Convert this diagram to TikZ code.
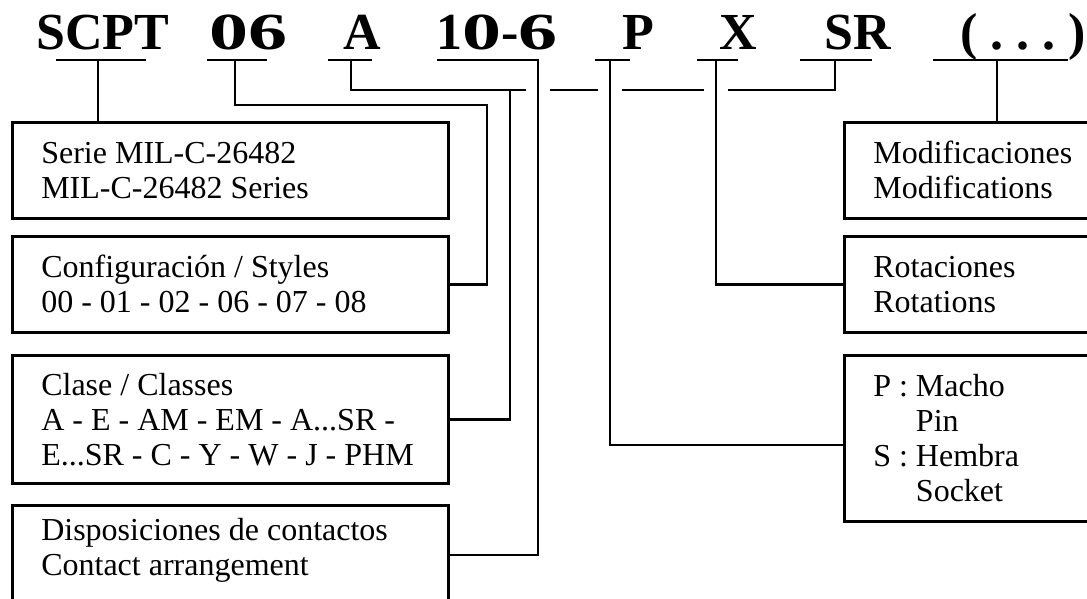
\documentclass[tikz,border=0pt]{standalone}
\usepackage{fontspec}
\usepackage{graphicx}
\setmainfont{Liberation Serif}
\usetikzlibrary{positioning}
\frenchspacing
\newcommand{\fatdig}[1]{\scalebox{1.5}[1]{#1}}

\begin{document}
\begin{tikzpicture}[x=1pt, y=-1pt, line join=miter,
  code/.style={font=\bfseries\fontsize{52}{52}\selectfont, anchor=base west, inner sep=0pt},
  box/.style={draw, line width=2.6pt, align=flush left, anchor=north west,
              inner xsep=29pt, inner ysep=0pt, font=\fontsize{32}{35}\selectfont},
  uline/.style={line width=2.8pt},
  ln/.style={line width=2.6pt},
  gap/.style={ln, preaction={draw=white, line width=24pt, shorten >=14pt}}]

\useasboundingbox (0,0) rectangle (1087,599);
\clip (0,0) rectangle (1087,599);

% part number code
\node[code] (tscpt) at (36,50) {SCPT};
\node[code] (tstyle) at (209,50) {\fatdig{0}\fatdig{6}};
\node[code] (tclass) at (343,50) {A};
\node[code] (tarr) at (436,50) {1\fatdig{0}-\fatdig{6}};
\node[code] (tpin) at (622,50) {P};
\node[code] (trot) at (719,50) {X};
\node[code] (tsr) at (824,50) {SR};
\node[code] (tmod) at (960,50) {( . . . )};

% left column
\node[box, text width=378pt, minimum height=96pt] (ser) at (11,121)
  {Serie MIL-C-26482\\MIL-C-26482 Series};
\node[box, text width=378pt, minimum height=96pt] (cfg) at (11,235)
  {Configuración / Styles\\00 - 01 - 02 - 06 - 07 - 08};
\node[box, text width=378pt, minimum height=128pt] (cls) at (11,354)
  {Clase / Classes\\A - E - AM - EM - A...SR -\\E...SR - C - Y - W - J - PHM};
\node[box, text width=378pt, minimum height=128pt] (dsp) at (11,504)
  {Disposiciones de contactos\\Contact arrangement\\\strut};

% right column
\node[box, text width=300pt, minimum height=96pt] (mod) at (843,121)
  {Modificaciones\\Modifications};
\node[box, text width=300pt, minimum height=96pt] (rot) at (843,235)
  {Rotaciones\\Rotations};
\node[box, text width=300pt, minimum height=166pt] (pin) at (843,354)
  {P : Macho\\\phantom{P : }Pin\\S : Hembra\\\phantom{S : }Socket};

% drop points under the code
\coordinate (u1) at (98,60);
\coordinate (u2) at (235,60);
\coordinate (u3) at (351,60);
\coordinate (u4) at (538,60);
\coordinate (u5) at (610,60);
\coordinate (u6) at (716,60);
\coordinate (u7) at (835,60);
\coordinate (u8) at (997,60);
\coordinate (j2) at (487,105);
\coordinate (j3) at (510,90);
\coordinate (j4) at (538,555);
\coordinate (j5) at (610,445);

\draw[ln] (u1) -- (u1 |- ser.north);
\draw[ln] (u2) |- (j2) |- (cfg.east);
\draw[ln] (u3) |- (j3) |- (cls.east);
\draw[ln] (u7) |- (j3); % SR joins the class line
\draw[gap] (u4) |- (dsp.east |- j4);
\draw[gap] (u5) |- (pin.west |- j5);
\draw[gap] (u6) |- (rot.west);
\draw[ln] (u8) -- (u8 |- mod.north);

% underlines
\foreach \a/\b in {56/146, 207/267, 328/372, 437/539, 595/630, 697/738, 800/872, 933/1068}
  \draw[uline] (\a,60) -- (\b,60);

\end{tikzpicture}
\end{document}
